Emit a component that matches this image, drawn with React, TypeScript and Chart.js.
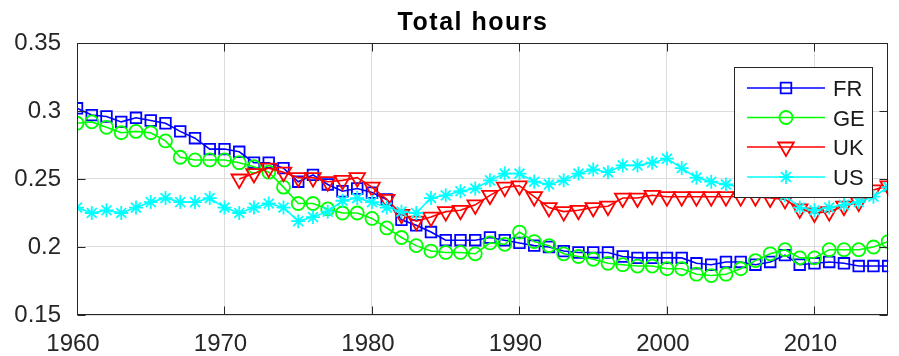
import React, { useEffect, useRef } from 'react';
import { Chart, registerables } from 'chart.js';
import { drawPoint } from 'chart.js/helpers';

Chart.register(...registerables);

const years = [
  1960, 1961, 1962, 1963, 1964, 1965, 1966, 1967, 1968, 1969,
  1970, 1971, 1972, 1973, 1974, 1975, 1976, 1977, 1978, 1979,
  1980, 1981, 1982, 1983, 1984, 1985, 1986, 1987, 1988, 1989,
  1990, 1991, 1992, 1993, 1994, 1995, 1996, 1997, 1998, 1999,
  2000, 2001, 2002, 2003, 2004, 2005, 2006, 2007, 2008, 2009,
  2010, 2011, 2012, 2013, 2014, 2015,
];

const frValues = [
  0.302, 0.297, 0.296, 0.292, 0.295, 0.293, 0.291, 0.285, 0.280, 0.272,
  0.272, 0.270, 0.262, 0.262, 0.258, 0.248, 0.253, 0.246, 0.241, 0.243,
  0.240, 0.235, 0.220, 0.216, 0.211, 0.205, 0.205, 0.205, 0.207, 0.205,
  0.203, 0.201, 0.200, 0.197, 0.196, 0.196, 0.196, 0.193, 0.192, 0.192,
  0.192, 0.192, 0.188, 0.187, 0.189, 0.189, 0.187, 0.189, 0.194, 0.187,
  0.188, 0.189, 0.188, 0.186, 0.186, 0.186,
];

const geValues = [
  0.291, 0.292, 0.288, 0.284, 0.285, 0.284, 0.278, 0.266, 0.264, 0.264,
  0.264, 0.262, 0.259, 0.255, 0.244, 0.232, 0.232, 0.228, 0.225, 0.225,
  0.221, 0.214, 0.207, 0.201, 0.197, 0.196, 0.196, 0.195, 0.203, 0.202,
  0.211, 0.204, 0.201, 0.195, 0.193, 0.191, 0.188, 0.187, 0.186, 0.186,
  0.184, 0.184, 0.180, 0.179, 0.180, 0.184, 0.190, 0.195, 0.198, 0.192,
  0.192, 0.198, 0.198, 0.198, 0.200, 0.204,
];

const ukValues = [
  null, null, null, null, null, null, null, null, null, null,
  null, 0.250, 0.254, 0.258, 0.255, 0.251, 0.251, 0.248, 0.249, 0.251,
  0.244, 0.235, 0.224, 0.219, 0.222, 0.226, 0.227, 0.231, 0.238, 0.244,
  0.245, 0.237, 0.229, 0.226, 0.227, 0.229, 0.230, 0.236, 0.236, 0.238,
  0.237, 0.237, 0.237, 0.237, 0.237, 0.237, 0.237, 0.236, 0.235, 0.228,
  0.225, 0.226, 0.230, 0.233, 0.242, 0.245,
];

const usValues = [
  0.229, 0.225, 0.227, 0.225, 0.229, 0.233, 0.236, 0.233, 0.233, 0.236,
  0.229, 0.225, 0.229, 0.232, 0.229, 0.219, 0.222, 0.226, 0.234, 0.236,
  0.233, 0.229, 0.226, 0.225, 0.236, 0.238, 0.241, 0.243, 0.249, 0.254,
  0.254, 0.248, 0.246, 0.249, 0.254, 0.257, 0.255, 0.260, 0.260, 0.262,
  0.265, 0.258, 0.251, 0.248, 0.246, 0.244, 0.243, 0.241, 0.238, 0.229,
  0.227, 0.229, 0.231, 0.233, 0.237, 0.244,
];

const xTicks = [1960, 1970, 1980, 1990, 2000, 2010];
const yTicks = [0.15, 0.2, 0.25, 0.3, 0.35];
const seriesNames = ['FR', 'GE', 'UK', 'US'];
const titleText = 'Total hours';

const FONT = "'Liberation Sans', Arial, Helvetica, sans-serif";

const framePlugin = {
  id: 'matlabFrame',
  afterDatasetsDraw(chart: any) {
    const { ctx, chartArea: a, scales } = chart;
    const L = Math.round(a.left) + 0.5;
    const R = Math.round(a.right) - 0.5;
    const T = Math.round(a.top) + 0.5;
    const B = Math.round(a.bottom) - 0.5;
    ctx.save();
    ctx.strokeStyle = '#262626';
    ctx.lineWidth = 1;
    ctx.strokeRect(L, T, R - L, B - T);
    const tl = 8;
    ctx.beginPath();
    xTicks.forEach((v) => {
      const px = Math.round(scales.x.getPixelForValue(v)) + 0.5;
      ctx.moveTo(px, B);
      ctx.lineTo(px, B - tl);
      ctx.moveTo(px, T);
      ctx.lineTo(px, T + tl);
    });
    yTicks.forEach((v) => {
      const py = Math.round(scales.y.getPixelForValue(v)) + 0.5;
      ctx.moveTo(L, py);
      ctx.lineTo(L + tl, py);
      ctx.moveTo(R, py);
      ctx.lineTo(R - tl, py);
    });
    ctx.stroke();

    // title
    ctx.fillStyle = '#000000';
    ctx.font = `bold 25px ${FONT}`;
    try { (ctx as any).letterSpacing = '1.5px'; } catch (e) {}
    ctx.textAlign = 'center';
    ctx.textBaseline = 'alphabetic';
    ctx.fillText(titleText, 473, 30);
    try { (ctx as any).letterSpacing = '0px'; } catch (e) {}

    // legend
    const bx = 734.5, by = 67.5, bw = 138, bh = 130;
    ctx.fillStyle = '#ffffff';
    ctx.fillRect(bx, by, bw, bh);
    ctx.strokeStyle = '#262626';
    ctx.lineWidth = 1;
    ctx.strokeRect(bx, by, bw, bh);
    const rowY = [88, 117.5, 147, 177];
    chart.data.datasets.forEach((ds: any, i: number) => {
      const y = rowY[i];
      ctx.strokeStyle = ds.borderColor;
      ctx.lineWidth = 1.5;
      ctx.beginPath();
      ctx.moveTo(747, y);
      ctx.lineTo(825, y);
      ctx.stroke();
      ctx.fillStyle = 'rgba(0,0,0,0)';
      ctx.lineWidth = 1.8;
      drawPoint(ctx, {
        pointStyle: ds.pointStyle,
        rotation: ds.pointRotation || 0,
        radius: ds.pointRadius,
        borderWidth: 1.8,
      }, 786, y);
      ctx.fillStyle = '#1a1a1a';
      ctx.font = `22px ${FONT}`;
      ctx.textAlign = 'left';
      ctx.textBaseline = 'alphabetic';
      ctx.fillText(seriesNames[i], 833, y + 8);
    });
    ctx.restore();
  },
};

function makeDataset(label: string, values: (number | null)[], color: string, style: string, radius: number, rotation: number, order: number) {
  return {
    label,
    data: years.map((x, i) => ({ x, y: values[i] })),
    borderColor: color,
    backgroundColor: 'rgba(0,0,0,0)',
    pointBackgroundColor: 'rgba(0,0,0,0)',
    pointBorderColor: color,
    pointStyle: style,
    pointRadius: radius,
    pointRotation: rotation,
    pointBorderWidth: 1.8,
    borderWidth: 1.6,
    tension: 0,
    fill: false,
    order,
  };
}

export default function App() {
  const ref = useRef<HTMLCanvasElement | null>(null);
  useEffect(() => {
    if (!ref.current) return;
    Chart.defaults.font.family = FONT;
    const chart = new Chart(ref.current, {
      type: 'line',
      data: {
        datasets: [
          makeDataset('FR', frValues, '#0000ff', 'rect', 7.5, 0, 3),
          makeDataset('GE', geValues, '#00ff00', 'circle', 6.5, 0, 2),
          makeDataset('UK', ukValues, '#ff0000', 'triangle', 9, 180, 1),
          makeDataset('US', usValues, '#00ffff', 'star', 7, 0, 0),
        ] as any,
      },
      options: {
        animation: false,
        responsive: false,
        maintainAspectRatio: false,
        layout: { padding: { top: 43, right: 4, left: 0, bottom: 0 } },
        plugins: {
          legend: { display: false },
          tooltip: { enabled: false },
          title: { display: false },
        },
        scales: {
          x: {
            type: 'linear',
            min: 1960,
            max: 2015,
            afterBuildTicks: (s: any) => { s.ticks = xTicks.map((v) => ({ value: v })); },
            afterFit: (s: any) => { s.height = 41; },
            ticks: {
              font: { size: 24, family: FONT },
              color: '#262626',
              padding: 15,
              labelOffset: -4,
              maxRotation: 0,
              autoSkip: false,
              callback: (v: any) => String(v),
            },
            grid: { color: '#dcdcdc', lineWidth: 1, drawTicks: false },
            border: { display: false },
          },
          y: {
            type: 'linear',
            min: 0.15,
            max: 0.35,
            afterBuildTicks: (s: any) => { s.ticks = yTicks.map((v) => ({ value: v })); },
            afterFit: (s: any) => { s.width = 77; },
            ticks: {
              font: { size: 24, family: FONT },
              color: '#262626',
              padding: 16,
              autoSkip: false,
              callback: (v: any) => String(Number(Number(v).toFixed(2))),
            },
            grid: { color: '#dcdcdc', lineWidth: 1, drawTicks: false },
            border: { display: false },
          },
        },
      },
      plugins: [framePlugin],
    });
    return () => chart.destroy();
  }, []);
  return (
    <div style={{ position: 'absolute', left: 0, top: 0, width: 899, height: 356 }}>
      <canvas ref={ref} width={899} height={356} style={{ display: 'block' }} />
    </div>
  );
}
